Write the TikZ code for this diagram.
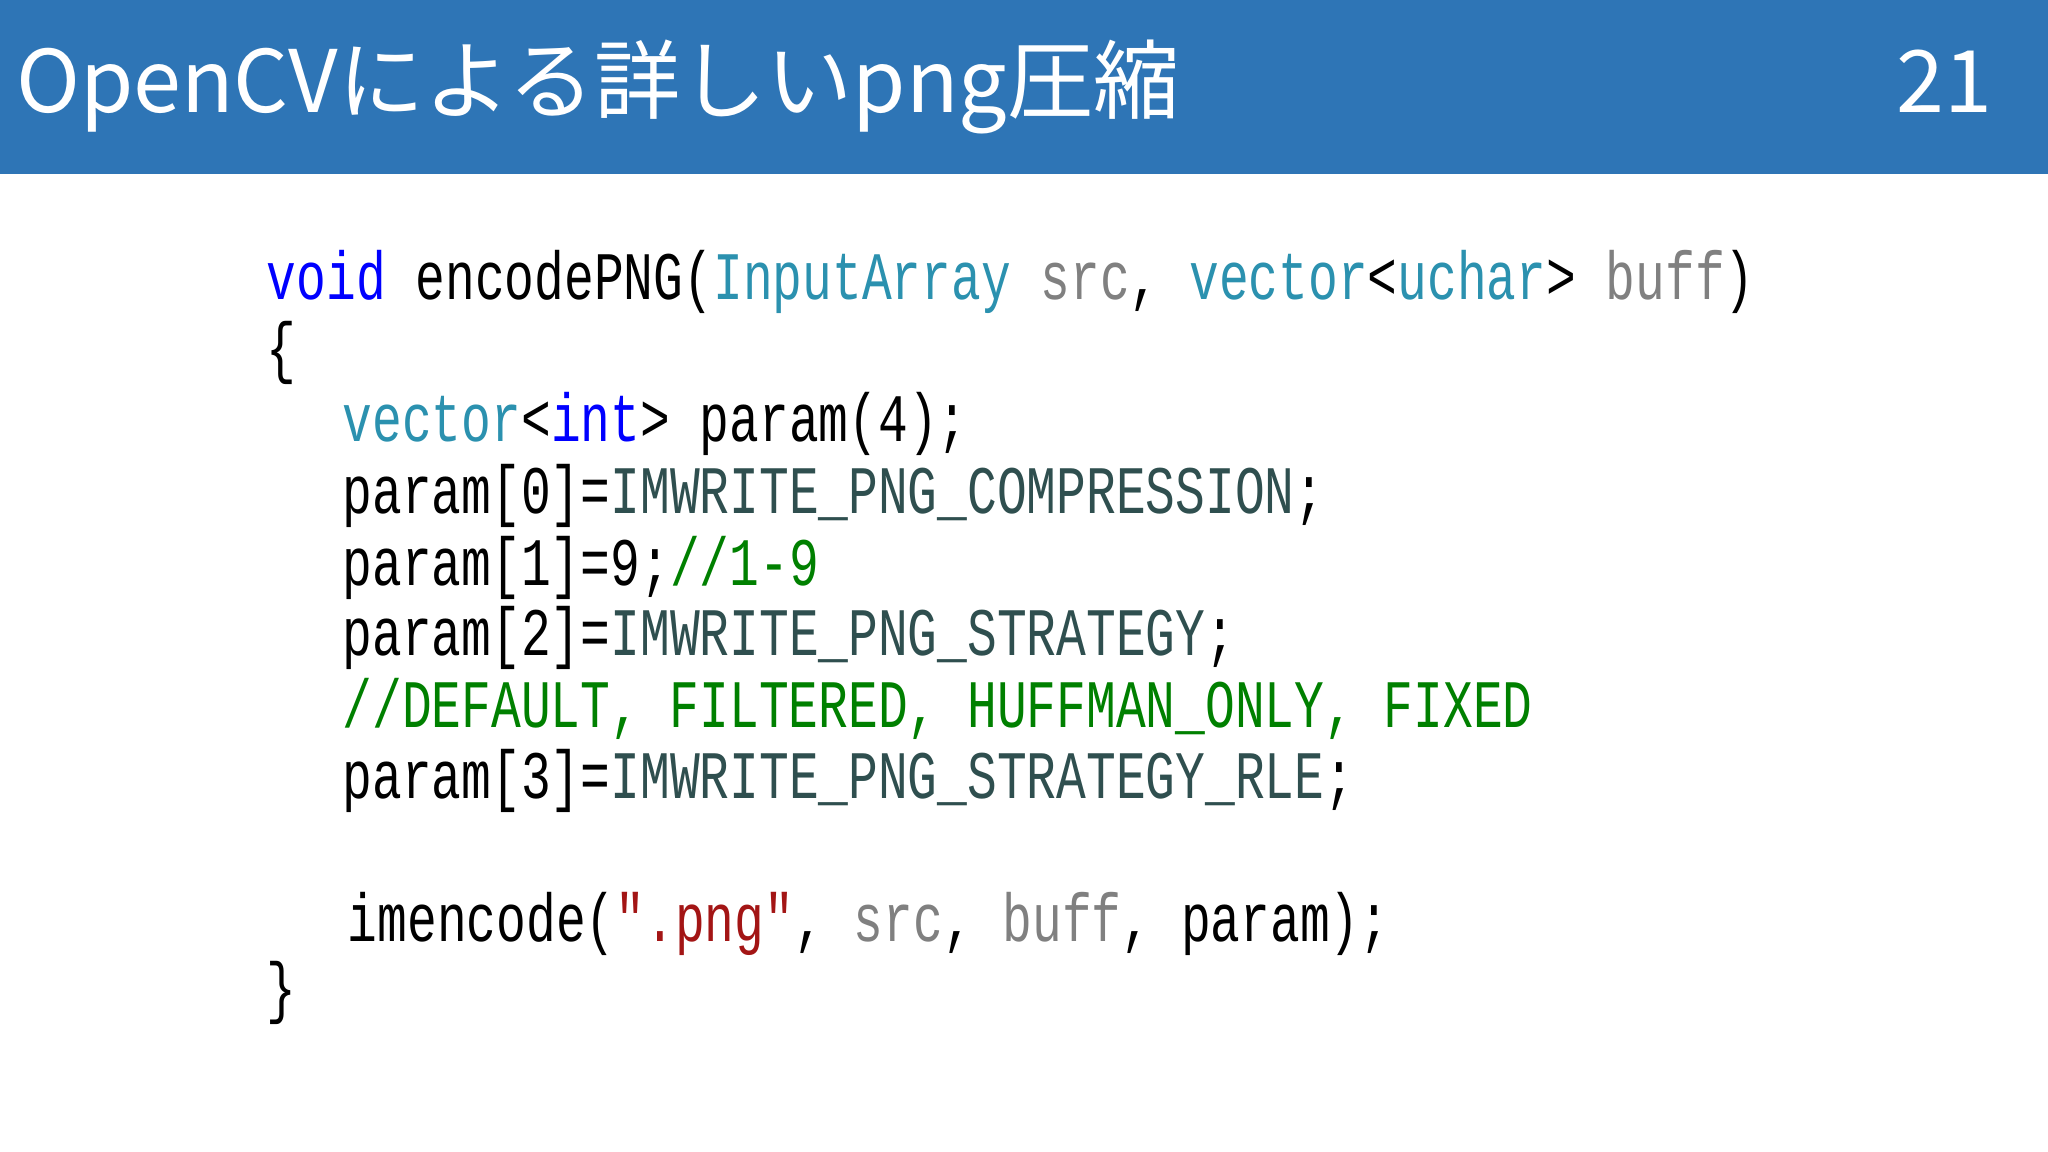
\documentclass[tikz,border=0pt]{standalone}
\usepackage{fontspec}
\newfontfamily\code[FakeStretch=0.73]{Liberation Mono}
\newfontfamily\cjk{Noto Sans CJK JP}
\definecolor{bar}{RGB}{46,117,182}
\definecolor{kw}{RGB}{0,0,255}
\definecolor{ty}{RGB}{43,145,175}
\definecolor{gr}{RGB}{128,128,128}
\definecolor{cst}{RGB}{47,79,79}
\definecolor{cm}{RGB}{0,128,0}
\definecolor{st}{RGB}{163,21,21}
\begin{document}
\begin{tikzpicture}[x=0.5pt,y=-0.5pt,
  codeline/.style={anchor=base west,inner sep=0pt,font=\code\fontsize{26pt}{26pt}\selectfont}]
\useasboundingbox (0,0) rectangle (1568,882);
\fill[white] (0,0) rectangle (1568,882);
\fill[bar] (0,0) rectangle (1568,133);
\node[anchor=base west,inner sep=0pt,text=white,font=\cjk\fontsize{33pt}{33pt}\selectfont] (title) at (12,86) {OpenCVによる詳しいpng圧縮};
\node[anchor=base east,inner sep=0pt,text=white,font=\cjk\fontsize{33pt}{33pt}\selectfont] (num) at (1526,86) {21};
\node[codeline] (l1) at (204,229) {\textcolor{kw}{void} encodePNG(\textcolor{ty}{InputArray} \textcolor{gr}{src}, \textcolor{ty}{vector}<\textcolor{ty}{uchar}> \textcolor{gr}{buff})};
\node[codeline] (l2) at (204,284) {\{};
\node[codeline] (l3) at (262,338) {\textcolor{ty}{vector}<\textcolor{kw}{int}> param(4);};
\node[codeline] (l4) at (262,393) {param[0]=\textcolor{cst}{IMWRITE\_PNG\_COMPRESSION};};
\node[codeline] (l5) at (262,448) {param[1]=9;\textcolor{cm}{//1-9}};
\node[codeline] (l6) at (262,502) {param[2]=\textcolor{cst}{IMWRITE\_PNG\_STRATEGY};};
\node[codeline] (l7) at (262,557) {\textcolor{cm}{//DEFAULT, FILTERED, HUFFMAN\_ONLY, FIXED}};
\node[codeline] (l8) at (262,611) {param[3]=\textcolor{cst}{IMWRITE\_PNG\_STRATEGY\_RLE};};
\node[codeline] (l9) at (266,721) {imencode(\textcolor{st}{".png"}, \textcolor{gr}{src}, \textcolor{gr}{buff}, param);};
\node[codeline] (l10) at (204,774) {\}};
\end{tikzpicture}
\end{document}
